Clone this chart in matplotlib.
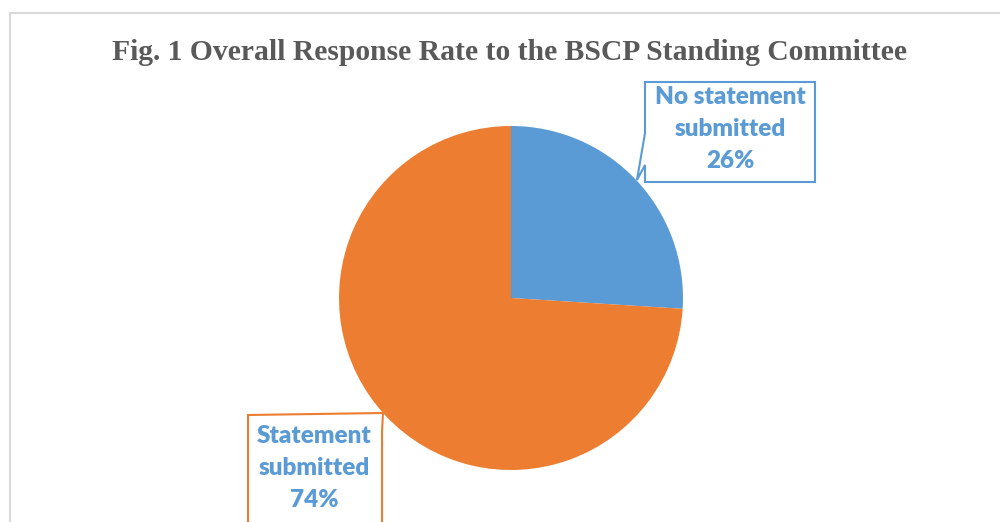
import matplotlib.pyplot as plt
from matplotlib.patches import Polygon, Rectangle

# chart data
categories = ['No statement submitted', 'Statement submitted']
shares = [26, 74]
slice_colors = ['#5B9BD5', '#ED7D31']
title = 'Fig. 1 Overall Response Rate to the BSCP Standing Committee'

W, H = 1000, 522


def py(y):
    # pixel row (from top) -> data y (from bottom)
    return H - y


fig = plt.figure(figsize=(10, 5.22), dpi=100)
ax = fig.add_axes([0, 0, 1, 1])

# chart border
ax.add_patch(Rectangle((10, py(1000)), 1200, py(13) - py(1000), fill=False,
                       edgecolor='#d9d9d9', lw=1.5))

# title
ax.text(509, py(52), title, ha='center', va='center', fontsize=21.3,
        fontweight='bold', color='#595959', family='Liberation Serif')

# pie
ax.pie(shares, colors=slice_colors, startangle=90, counterclock=False,
       center=(511, py(298)), radius=172, frame=True,
       wedgeprops=dict(linewidth=0))
ax.set_xlim(0, W)
ax.set_ylim(0, H)
ax.set_aspect('equal')
ax.axis('off')

# callout boxes
blue_box = [(645, 82), (815, 82), (815, 182), (645, 182), (645, 165),
            (637, 180), (645, 133)]
ax.add_patch(Polygon([(x, py(y)) for x, y in blue_box], closed=True,
                     facecolor='white', edgecolor=slice_colors[0], lw=1.5))
orange_box = [(248, 415), (383, 413), (382, 432), (382, 560), (248, 560)]
ax.add_patch(Polygon([(x, py(y)) for x, y in orange_box], closed=True,
                     facecolor='white', edgecolor=slice_colors[1], lw=1.5))

label_font = dict(ha='center', va='center', fontsize=17.5, fontweight='heavy',
                  color='#5B9BD5', family='Lato', linespacing=1.53)
ax.text(730, py(129), 'No statement\nsubmitted\n{}%'.format(shares[0]),
        **label_font)
ax.text(314, py(468), 'Statement\nsubmitted\n{}%'.format(shares[1]),
        **label_font)

fig.savefig('out.png', dpi=100)
